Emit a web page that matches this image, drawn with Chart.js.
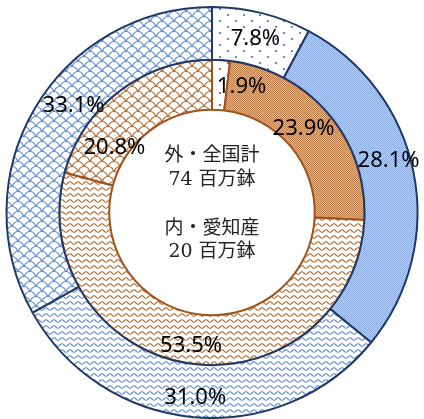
<!DOCTYPE html>
<html>
<head>
<meta charset="utf-8">
<script src="https://cdn.jsdelivr.net/npm/chart.js@4.4.1/dist/chart.umd.min.js"></script>
<style>
  html, body { margin: 0; padding: 0; background: #fff; }
  #wrap { width: 424px; height: 419px; position: relative; }
</style>
</head>
<body>
<div id="wrap"><canvas id="potChart"></canvas></div>
<script>
// categories (no legend in the original, order is clockwise from the top)
const categories = ['区分1', '区分2', '区分3', '区分4'];
// outer ring: 全国計 (74 百万鉢), inner ring: 愛知産 (20 百万鉢)
const nationalShare = [7.8, 28.1, 31.0, 33.1];
const aichiShare = [1.9, 23.9, 53.5, 20.8];
const centerLines = ['外・全国計', '74 百万鉢', '内・愛知産', '20 百万鉢'];

// little tile patterns like the excel fills
function makePattern(kind, color, light) {
    const c = document.createElement('canvas');
    const x = c.getContext('2d');
    if (kind === 'dots') {
        c.width = 16; c.height = 12;
        x.fillStyle = '#fff'; x.fillRect(0, 0, 16, 12);
        x.fillStyle = color;
        x.fillRect(3, 2, 2, 2);
        x.fillRect(11, 8, 2, 2);
    } else if (kind === 'check') {
        c.width = 2; c.height = 2;
        x.fillStyle = light; x.fillRect(0, 0, 2, 2);
        x.fillStyle = color;
        x.fillRect(0, 0, 1, 1);
        x.fillRect(1, 1, 1, 1);
    } else if (kind === 'wave') {
        c.width = 8; c.height = 6;
        x.fillStyle = '#fff'; x.fillRect(0, 0, 8, 6);
        x.strokeStyle = color; x.lineWidth = 1.1;
        x.beginPath();
        for (let i = -1; i <= 9; i += 0.5) {
            const yy = 3 + 1.3 * Math.sin(i / 8 * Math.PI * 2);
            if (i === -1) x.moveTo(i, yy); else x.lineTo(i, yy);
        }
        x.stroke();
    } else if (kind === 'scale') {
        c.width = 12; c.height = 10;
        x.fillStyle = '#fff'; x.fillRect(0, 0, 12, 10);
        x.strokeStyle = color; x.lineWidth = 1.2;
        [[0, 0], [12, 0], [6, 5], [0, 10], [12, 10]].forEach(p => {
            x.beginPath();
            x.arc(p[0], p[1] + 2, 5.5, Math.PI, Math.PI * 2);
            x.stroke();
        });
    }
    return x.createPattern(c, 'repeat');
}

const blue = '#5F88CF';
const brown = '#B06A30';
const outerFills = [
    makePattern('dots', blue),
    makePattern('check', '#87A7DE', '#C4D4EF'),
    makePattern('wave', blue),
    makePattern('scale', blue)
];
const innerFills = [
    makePattern('dots', brown),
    makePattern('check', '#BA7D4A', '#DDB897'),
    makePattern('wave', brown),
    makePattern('scale', brown)
];

// nudges so the labels sit roughly where excel put them
const labelNudge = [
    [[0, 0], [1, -17], [-1, 7], [16, -16]],
    [[22, 2], [-6, -1], [-1, 7], [-20, 37]]
];

const sliceLabels = {
    id: 'sliceLabels',
    afterDatasetsDraw(chart) {
        const ctx = chart.ctx;
        ctx.save();
        ctx.font = '22px "Noto Sans"';
        ctx.fillStyle = '#000';
        ctx.textAlign = 'center';
        ctx.textBaseline = 'middle';
        chart.data.datasets.forEach((ds, di) => {
            chart.getDatasetMeta(di).data.forEach((arc, i) => {
                const p = arc.getProps(['x', 'y', 'startAngle', 'endAngle', 'innerRadius', 'outerRadius'], true);
                const a = (p.startAngle + p.endAngle) / 2;
                const r = (p.innerRadius + p.outerRadius) / 2;
                const n = labelNudge[di][i];
                ctx.fillText(ds.data[i].toFixed(1) + '%', p.x + Math.cos(a) * r + n[0], p.y + Math.sin(a) * r + n[1]);
            });
        });
        ctx.restore();
    }
};

const centerText = {
    id: 'centerText',
    afterDraw(chart) {
        const arc = chart.getDatasetMeta(0).data[0];
        const ctx = chart.ctx;
        const offs = [-56, -32, 17, 40];
        ctx.save();
        ctx.font = '19px "DejaVu Serif", "Noto Sans CJK JP"';
        ctx.fillStyle = '#222';
        ctx.textAlign = 'center';
        ctx.textBaseline = 'middle';
        centerLines.forEach((t, i) => ctx.fillText(t, arc.x, arc.y + offs[i]));
        ctx.restore();
    }
};

document.addEventListener('DOMContentLoaded', () => {
    const ctx = document.getElementById('potChart').getContext('2d');
    new Chart(ctx, {
        type: 'doughnut',
        data: {
            labels: categories,
            datasets: [
                {
                    label: '全国計',
                    data: nationalShare,
                    backgroundColor: outerFills,
                    borderColor: '#1F3A68',
                    borderWidth: 2,
                    borderAlign: 'center',
                    weight: 1.06
                },
                {
                    label: '愛知産',
                    data: aichiShare,
                    backgroundColor: innerFills,
                    borderColor: '#A0521A',
                    borderWidth: 2,
                    borderAlign: 'center',
                    weight: 1
                }
            ]
        },
        options: {
            responsive: true,
            maintainAspectRatio: false,
            animation: false,
            cutout: '50%',
            layout: { padding: { top: 6, bottom: 0 } },
            plugins: {
                legend: { display: false },
                tooltip: { enabled: false }
            }
        },
        plugins: [sliceLabels, centerText]
    });
});
</script>
</body>
</html>
